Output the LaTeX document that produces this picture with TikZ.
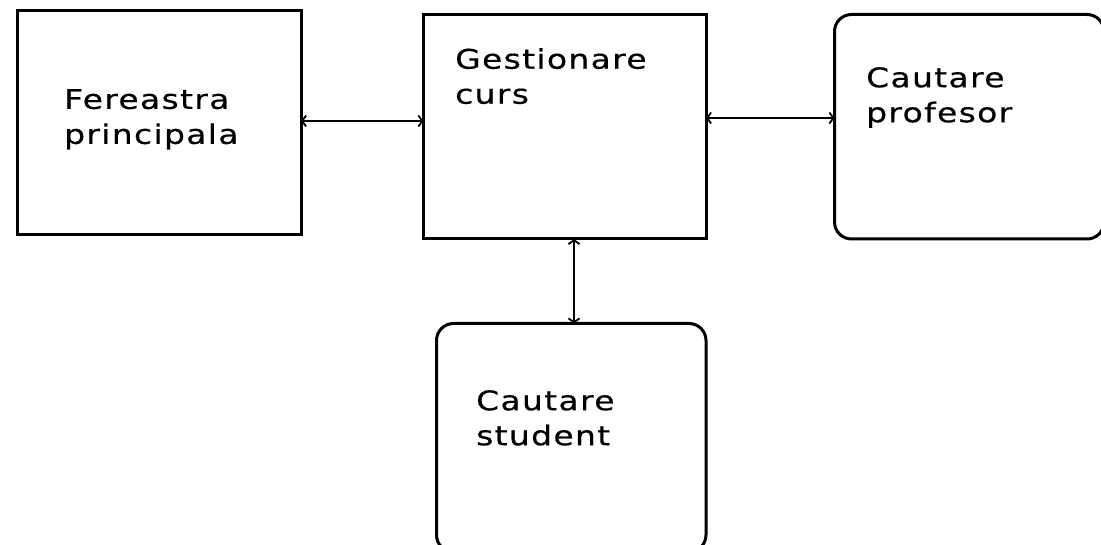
\documentclass[tikz,border=0pt]{standalone}
\usepackage{fontspec}
\setmainfont{DejaVu Sans}[FakeStretch=1.22,LetterSpace=5,FakeBold=0.5]
\usetikzlibrary{arrows.meta}
\begin{document}
\begin{tikzpicture}[x=1pt,y=-1pt,
  box/.style={draw=black,line width=3pt,inner sep=0pt},
  roundbox/.style={box,rounded corners=17pt},
  label/.style={anchor=north west,inner sep=0pt,align=left,
    font=\fontsize{27}{35}\selectfont},
  conn/.style={line width=2.2pt,{Straight Barb[length=4pt,width=11pt,line width=1.8pt]}-{Straight Barb[length=4pt,width=11pt,line width=1.8pt]}}]
  \useasboundingbox (0,0) rectangle (1101,545);
  \clip (0,0) rectangle (1101,545);
  \fill[white] (0,0) rectangle (1101,545);

  % the four windows
  \draw[box] (17.5,10.5) rectangle (301,235);
  \draw[box] (423.5,14.5) rectangle (706,239);
  \draw[roundbox] (834.5,14.5) rectangle (1104,239);
  \draw[roundbox] (436.5,323.5) rectangle (706,552);

  % named anchors for the connectors
  \coordinate (fE) at (301,121);
  \coordinate (gW) at (423.5,121);
  \coordinate (gE) at (706,118);
  \coordinate (pW) at (834.5,118);
  \coordinate (gS) at (574,239);
  \coordinate (sN) at (574,323.5);

  % captions
  \node[label] (tfer) at (64,89) {Fereastra\\principala};
  \node[label] (tges) at (455,48) {Gestionare\\curs};
  \node[label] (tpro) at (866,67) {Cautare\\profesor};
  \node[label] (tstu) at (476,390) {Cautare\\student};

  % links between windows
  \draw[conn] (fE) -- (gW);
  \draw[conn] (gE) -- (pW);
  \draw[conn] (gS) -- (sN);
\end{tikzpicture}
\end{document}
